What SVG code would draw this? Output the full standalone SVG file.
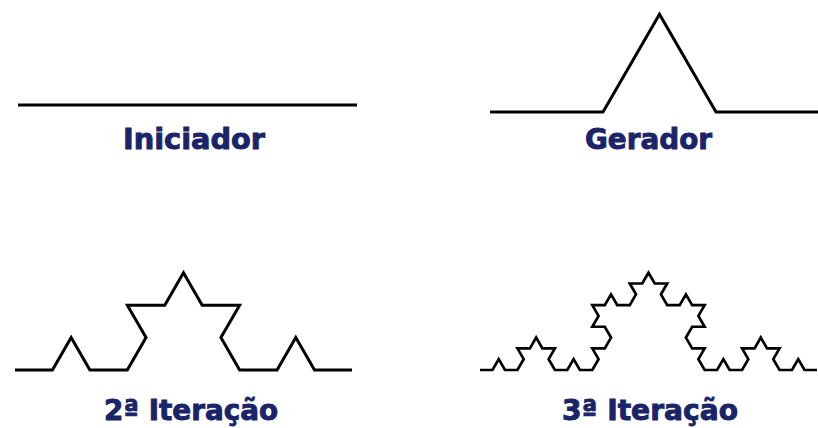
<svg xmlns="http://www.w3.org/2000/svg" width="818" height="428" viewBox="0 0 818 428">
<style>
.curve{fill:none;stroke:#000;stroke-width:3;stroke-linejoin:miter;stroke-linecap:butt}
.thin{stroke-width:2.7}
.lbl{font-family:"DejaVu Sans","Verdana",sans-serif;font-weight:bold;font-size:28px;fill:#1a2468;stroke:#1a2468;stroke-width:0.9;text-anchor:middle}
</style>
<rect width="818" height="428" fill="#fff"/>
<g id="iniciador">
<path class="curve" d="M18,105 L357,105"/>
<text class="lbl" x="194" y="149" textLength="142" lengthAdjust="spacingAndGlyphs">Iniciador</text>
</g>
<g id="gerador">
<path class="curve" d="M490,112 l113,0 56.5,-97.86 56.5,97.86 113,0"/>
<text class="lbl" x="648.5" y="149" textLength="127" lengthAdjust="spacingAndGlyphs">Gerador</text>
</g>
<g id="iteracao2">
<path class="curve" d="M15,370 l37.44,0 18.72,-32.43 18.72,32.43 37.44,0 18.72,-32.43 -18.72,-32.43 37.44,0 18.72,-32.43 18.72,32.43 37.44,0 -18.72,32.43 18.72,32.43 37.44,0 18.72,-32.43 18.72,32.43 37.44,0"/>
<text class="lbl" x="191" y="420" textLength="174" lengthAdjust="spacingAndGlyphs">2ª Iteração</text>
</g>
<g id="iteracao3">
<path class="curve thin" d="M480,370 l
12.48,0 6.24,-10.81 6.24,10.81 12.48,0
6.24,-10.81 -6.24,-10.81 12.48,0 6.24,-10.81
6.24,10.81 12.48,0 -6.24,10.81 6.24,10.81
12.48,0 6.24,-10.81 6.24,10.81 12.48,0
6.24,-10.81 -6.24,-10.81 12.48,0 6.24,-10.81
-6.24,-10.81 -12.48,0 6.24,-10.81 -6.24,-10.81
12.48,0 6.24,-10.81 6.24,10.81 12.48,0
6.24,-10.81 -6.24,-10.81 12.48,0 6.24,-10.81
6.24,10.81 12.48,0 -6.24,10.81 6.24,10.81
12.48,0 6.24,-10.81 6.24,10.81 12.48,0
-6.24,10.81 6.24,10.81 -12.48,0 -6.24,10.81
6.24,10.81 12.48,0 -6.24,10.81 6.24,10.81
12.48,0 6.24,-10.81 6.24,10.81 12.48,0
6.24,-10.81 -6.24,-10.81 12.48,0 6.24,-10.81
6.24,10.81 12.48,0 -6.24,10.81 6.24,10.81
12.48,0 6.24,-10.81 6.24,10.81 12.48,0"/>
<text class="lbl" x="650" y="420" textLength="176" lengthAdjust="spacingAndGlyphs">3ª Iteração</text>
</g>
</svg>
